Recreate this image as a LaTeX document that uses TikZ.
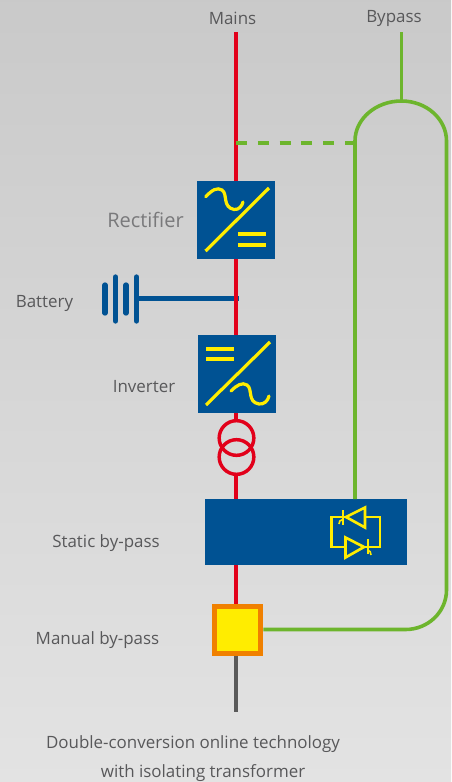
\documentclass[tikz,border=0pt]{standalone}
\usepackage{fontspec}
\setmainfont{Open Sans}
\definecolor{mainsred}{HTML}{E2001A}
\definecolor{blockblue}{HTML}{005293}
\definecolor{bypassgreen}{HTML}{6DB52D}
\definecolor{iconyellow}{HTML}{FFED00}
\definecolor{switchorange}{HTML}{F08000}
\definecolor{labelgrey}{HTML}{58585A}
\definecolor{outgrey}{HTML}{5A5A5A}
\tikzset{
    label/.style={text=labelgrey, font=\fontsize{12.7}{14}\selectfont, inner sep=0pt},
    block/.style={fill=blockblue, inner sep=0pt, minimum size=58.5pt},
    coil/.style={circle, draw=mainsred, line width=2.6pt, inner sep=0pt, minimum size=26pt},
    redline/.style={draw=mainsred, line width=2.8pt},
    greenline/.style={draw=bypassgreen, line width=2.7pt},
    battline/.style={draw=blockblue, line width=4pt},
    icon/.style={draw=iconyellow, line width=2.4pt},
    thyr/.style={draw=iconyellow, line width=1.6pt}
}
\begin{document}
\begin{tikzpicture}[x=0.75pt, y=-0.75pt]
            \useasboundingbox (0,0) rectangle (451,782);
            \shade[top color=black!21, bottom color=black!11] (0,0) rectangle (451,782);
            % free ends
            \coordinate(mainstop) at (236,32);
            \coordinate(bypasstop) at (401.5,32);
            \coordinate(bypassjoin) at (401.5,101);
            \coordinate(tap) at (236,143);
            \coordinate(tapend) at (355,143);
            \coordinate(leftend) at (355,499);
            \coordinate(battend) at (238.5,298.5);
            \coordinate(batt) at (136,298.5);
            \coordinate(outend) at (236,712);
            % blocks
            \node(rect) [block] at (236,220) {};
            \node(inv) [block] at (237,374) {};
            \node(trafoa) [coil] at (236.5,438) {};
            \node(trafob) [coil] at (236.5,457) {};
            \node(static) [block, minimum width=151.5pt, minimum height=49.5pt] at (306,532) {};
            \node(manual) [fill=iconyellow, draw=switchorange, line width=3.8pt, inner sep=0pt, minimum size=35pt] at (237.5,630) {};
            % battery
            \draw[battline](batt) -- (battend);
            \draw[battline, line cap=round] (105,285) -- (105,313);
            \draw[battline, line cap=round] (115.5,277) -- (115.5,321);
            \draw[battline, line cap=round] (126,285) -- (126,313);
            \draw[battline, line cap=round] (136.5,277) -- (136.5,321);
            % red line
            \draw[redline](mainstop) -- (rect);
            \draw[redline](rect) -- (rect |- inv.north);
            \draw[redline](inv.south -| rect) -- (trafoa.north -| rect);
            \draw[redline](trafob.south -| rect) -- (static.north -| rect);
            \draw[redline](static.south -| rect) -- (manual.north -| rect);
            \draw[draw=outgrey, line width=2.6pt](manual.south -| outend) -- (outend);
            % bypass
            \draw[greenline](bypasstop) -- (bypassjoin);
            \draw[greenline](leftend) -- (355,141) arc (180:270:46.5 and 40) arc (270:360:45 and 40) -- (446.5,590) arc (0:90:41 and 39.5) -- (manual.east |- 0,629.5);
            \draw[greenline, dash pattern=on 8.2pt off 8.15pt](tap) -- (tapend);
            % rectifier symbol
            \draw[icon](205.5,251) -- (269,188);
            \draw[icon, line cap=round](205.7,196.7) .. controls (212,190) and (217,187) .. (222,190) .. controls (228,194) and (222,207) .. (234,209.5) .. controls (239,210) and (242,206) .. (243,202);
            \foreach \y in {234,245} \fill[iconyellow] (238,\y-1.6) rectangle (266,\y+1.6);
            % inverter symbol
            \draw[icon](206,405) -- (270,342);
            \draw[icon, line cap=round](231,391) .. controls (237,385) and (242,382) .. (247,385) .. controls (253,389) and (247,402) .. (259,404) .. controls (264,404.5) and (268,401) .. (269,396);
            \foreach \y in {349,359} \fill[iconyellow] (206,\y-1.6) rectangle (234,\y+1.6);
            % thyristors
            \draw[thyr](346,517) -- (331.5,517) -- (331.5,547) -- (346,547);
            \draw[thyr](365,517) -- (380,517) -- (380,547) -- (364,547);
            \draw[thyr, line width=2pt](346,517) -- (365,507.5) -- (365,527.5) -- cycle;
            \draw[thyr, line width=2pt](364,547) -- (345.5,537.5) -- (345.5,557.5) -- cycle;
            \draw[thyr](342.7,510) -- (342.7,525);
            \draw[thyr](367.7,539) -- (367.7,554);
            \draw[thyr, line width=1.2pt](339,524) .. controls (339,521) and (340,520.5) .. (342.7,519.5);
            \draw[thyr, line width=1.2pt](371,555) .. controls (371,552) and (370,551) .. (367.7,550);
            % labels
            \node(mains) [label] at (232.5,18.5) {Mains};
            \node(bypass) [label] at (394,18.5) {Bypass};
            \node(battery) [label] at (44.5,303) {Battery};
            \node(rectifier) [label, font=\fontsize{15}{18}\selectfont, text=labelgrey!80] at (145.5,220) {Rectifier};
            \node(inverter) [label] at (144,387) {Inverter};
            \node(staticby) [label] at (106,543) {Static by-pass};
            \node(manualby) [label] at (97.5,640) {Manual by-pass};
            \node(captiona) [label] at (193,744) {Double-conversion online technology};
            \node(captionb) [label] at (203,773) {with isolating transformer};
            \end{tikzpicture}
\end{document}
